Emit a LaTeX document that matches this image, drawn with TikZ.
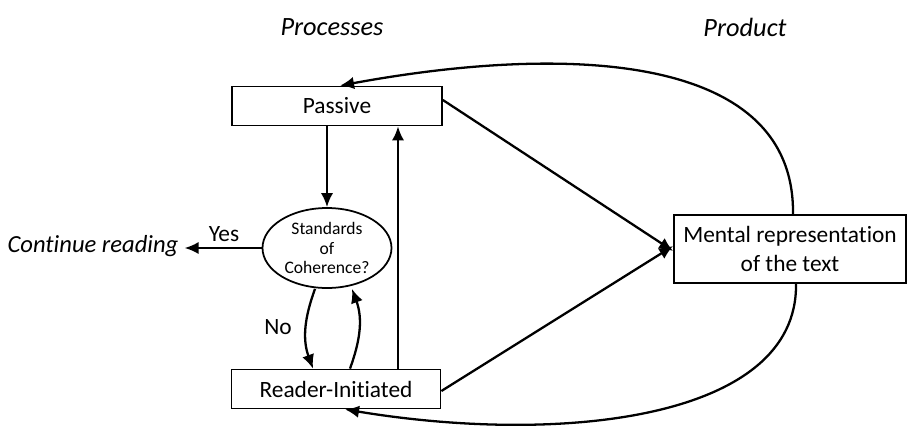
\documentclass[tikz,border=0pt]{standalone}
\usepackage{fontspec}
\setmainfont{Carlito}[Ligatures=NoCommon]
\usetikzlibrary{arrows.meta,shapes.geometric}

\begin{document}
\begin{tikzpicture}[x=0.02cm,y=-0.02cm]

\tikzset{box/.style={draw,line width=1pt,font=\fontsize{13.3}{16.5}\selectfont,inner sep=0pt}}
\tikzset{link/.style={line width=1.3pt,-{Latex[length=8pt,width=7pt]}}}
\tikzset{head/.style={font=\itshape\fontsize{15}{18}\selectfont}}
\tikzset{tag/.style={font=\fontsize{13.3}{16}\selectfont}}

\useasboundingbox (0,0) rectangle (908,430);

\node[head] (procs) at (332,27) {Processes};
\node[head] (prod)  at (745,27) {Product};

\node[box,minimum width=210*0.02cm,minimum height=39*0.02cm] (passive) at (337,106) {Passive};
\node[box,minimum width=209*0.02cm,minimum height=39*0.02cm] (reader)  at (336,389) {Reader-Initiated};
\node[box,minimum width=232*0.02cm,minimum height=68*0.02cm,align=center] (mental) at (790,249)
     {Mental representation\\of the text};
\node[draw,ellipse,line width=1pt,minimum width=129*0.02cm,minimum height=80*0.02cm,inner sep=0pt,
      align=center,font=\fontsize{10}{11}\selectfont] (coherence) at (327,248) {Standards\\of\\Coherence?};
\node[head,font=\itshape\fontsize{14}{17}\selectfont] (cont) at (93,246) {Continue reading};

% passive path
\draw[link] (passive.south -| coherence.north) -- (coherence.north);
\draw[link] (coherence.west) -- (coherence.west -| cont.east);
\node[tag] (yes) at (224,234) {Yes};

% loop with the reader
\draw[link] ([xshift=-12*0.02cm]coherence.south) to[out=-110,in=110] ([xshift=-23*0.02cm]reader.north);
\draw[link] ([xshift=14*0.02cm]reader.north) to[out=70,in=-70] ([xshift=25*0.02cm]coherence.south);
\node[tag] (no) at (278,327) {No};
\draw[link] ([xshift=62*0.02cm]reader.north) -- ([xshift=61*0.02cm]passive.south);

% to the product
\draw[link] ([yshift=6*0.02cm]passive.east) -- ([yshift=-2*0.02cm]mental.west);
\draw[link] ([yshift=-2*0.02cm]reader.east) -- ([yshift=3*0.02cm]mental.west);

% back from the product
\draw[link] ([xshift=3*0.02cm]mental.north) .. controls (795,50) and (560,45) .. ([xshift=3*0.02cm]passive.north);
\draw[link] ([xshift=6*0.02cm]mental.south) .. controls (798,420) and (560,445) .. ([xshift=9*0.02cm]reader.south);

\end{tikzpicture}
\end{document}
